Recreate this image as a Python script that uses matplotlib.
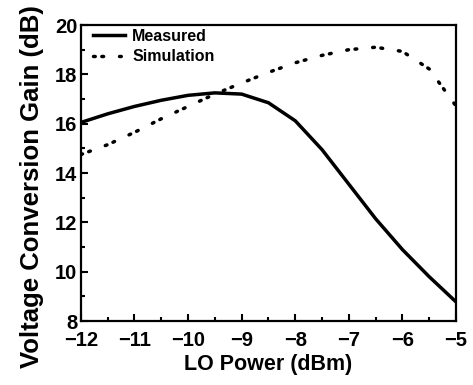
import matplotlib.pyplot as plt
from matplotlib.ticker import MultipleLocator

plt.rcParams['font.family'] = ['Liberation Sans', 'DejaVu Sans']
plt.rcParams['font.weight'] = 'bold'

# LO power sweep (dBm) and gain curves (dB)
lo_power = [-12, -11.5, -11, -10.5, -10, -9.5, -9, -8.5, -8, -7.5, -7, -6.5, -6, -5.5, -5]
measured = [16.05, 16.4, 16.7, 16.95, 17.15, 17.25, 17.2, 16.85, 16.12, 14.95, 13.55, 12.15, 10.9, 9.8, 8.78]
simulation = [14.75, 15.15, 15.65, 16.2, 16.7, 17.2, 17.65, 18.08, 18.47, 18.77, 19.0, 19.1, 18.93, 18.22, 16.72]

fig = plt.figure(figsize=(4.73, 3.85), dpi=100)
ax = fig.add_axes([0.171, 0.166, 0.793, 0.769])

ax.plot(lo_power, measured, color='black', lw=2.5, label='Measured')
ax.plot(lo_power, simulation, color='black', lw=2.5, dash_capstyle='round',
        dashes=(0.5, 1.9, 0.5, 4.6), label='Simulation')

ax.set_xlim(-12, -5)
ax.set_ylim(8, 20)
ax.xaxis.set_major_locator(MultipleLocator(1))
ax.xaxis.set_minor_locator(MultipleLocator(0.5))
ax.yaxis.set_major_locator(MultipleLocator(2))
ax.yaxis.set_minor_locator(MultipleLocator(1))
ax.tick_params(which='both', direction='in', width=1.5, labelsize=14.5)
ax.tick_params(axis='x', pad=7)
ax.tick_params(axis='y', pad=2.5)
ax.tick_params(which='major', length=5)
ax.tick_params(which='minor', length=3)
for s in ax.spines.values():
    s.set_linewidth(1.6)

ax.set_xlabel('LO Power (dBm)', fontsize=15.5, fontweight='bold', labelpad=3)
ax.set_ylabel('Voltage Conversion Gain (dB)', fontsize=18.5, fontweight='bold')
ax.yaxis.set_label_coords(-0.098, 0.453)

ax.legend(loc='upper left', bbox_to_anchor=(0.032, 0.987), frameon=False,
          fontsize=11.5, handlelength=2.0, handletextpad=0.45,
          borderaxespad=0, borderpad=0, labelspacing=0.34)

fig.savefig('out.png', dpi=100)
